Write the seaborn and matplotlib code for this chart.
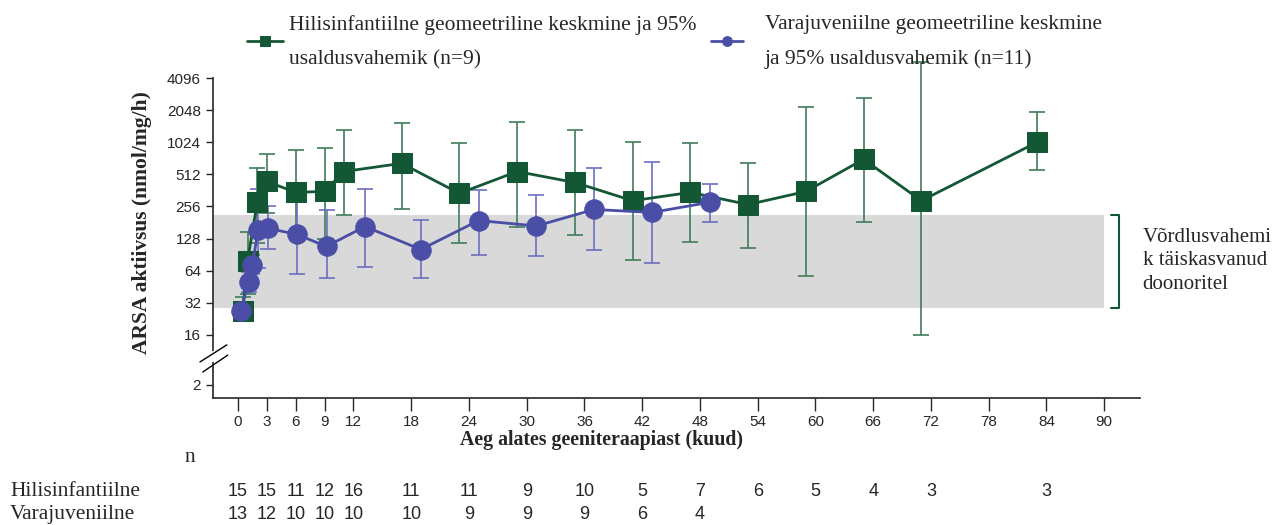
import numpy as np
import pandas as pd
import matplotlib
matplotlib.use("Agg")
import matplotlib.pyplot as plt
import seaborn as sns

# Hilisinfantiilne (late infantile) geometric mean and 95% CI
green_month = [0.5, 1, 2, 3, 6, 9, 11, 17, 23, 29, 35, 41, 47, 53, 59, 65, 71, 83]
green_mean = [27, 79, 279, 440, 347, 355, 545, 650, 340, 545, 430, 290, 347, 267, 354, 710, 290, 1024]
green_lo = [25, 39, 115, 220, 150, 128, 215, 245, 115, 165, 137, 81, 120, 105, 57, 185, 16, 558]
green_hi = [36, 149, 583, 790, 861, 900, 1350, 1550, 1000, 1600, 1350, 1040, 1000, 650, 2180, 2650, 5800, 1960]

# Varajuveniilne (early juvenile)
blue_month = [0.3, 1.1, 1.5, 2.1, 3.1, 6.1, 9.2, 13.2, 19, 25, 31, 37, 43, 49]
blue_mean = [27, 50, 73, 155, 160, 140, 108, 166, 101, 189, 168, 240, 225, 280]
blue_lo = [24, 40, 60, 67, 103, 60, 54, 69, 55, 90, 87, 101, 75, 185]
blue_hi = [32, 62, 90, 376, 260, 300, 235, 376, 193, 368, 325, 583, 670, 420]

# reference range in healthy adult donors
ref_lo, ref_hi = 28.6, 211

x_ticks = [0, 3, 6, 9, 12, 18, 24, 30, 36, 42, 48, 54, 60, 66, 72, 78, 84, 90]
y_ticks = [2, 16, 32, 64, 128, 256, 512, 1024, 2048, 4096]

n_months_green = [0, 3, 6, 9, 12, 18, 24, 30, 36, 42, 48, 54, 60, 66, 72, 84]
n_green = [15, 15, 11, 12, 16, 11, 11, 9, 10, 5, 7, 6, 5, 4, 3, 3]
n_months_blue = [0, 3, 6, 9, 12, 18, 24, 30, 36, 42, 48]
n_blue = [13, 12, 10, 10, 10, 10, 9, 9, 9, 6, 4]

GREEN = "#135734"
GREEN_ERR = "#3f7d5a"
BLUE = "#4a4ea6"
BLUE_ERR = "#6b6fbf"
SERIF = ["Liberation Serif", "DejaVu Serif"]
SANS = ["Liberation Sans", "DejaVu Sans"]

sns.set_style("ticks")
plt.rcParams["font.family"] = SERIF


# log2 axis with a compressed part below 16 (broken axis)
def fwd(v):
    v = np.asarray(v, dtype=float)
    l = np.log2(np.clip(v, 1e-9, None))
    return np.where(l >= 4, l, 4 - (4 - l) * 0.5208)


def inv(p):
    p = np.asarray(p, dtype=float)
    l = np.where(p >= 4, p, 4 - (4 - p) / 0.5208)
    return 2 ** l


green = pd.DataFrame({"month": green_month, "mean": green_mean})
blue = pd.DataFrame({"month": blue_month, "mean": blue_mean})

fig = plt.figure(figsize=(12.75, 5.25), dpi=100)
ax = fig.add_axes([0.167, 0.242, 0.727, 0.609])

xmin, xmax = -2.6, 93.7
ax.fill_between([xmin, 90], ref_lo, ref_hi, color="#d9d9d9", lw=0, zorder=0)

ax.errorbar(green_month, green_mean,
            yerr=[np.array(green_mean) - np.array(green_lo), np.array(green_hi) - np.array(green_mean)],
            fmt="none", ecolor=GREEN_ERR, elinewidth=1.2, capsize=6, capthick=1.2, zorder=2, clip_on=False)
ax.errorbar(blue_month, blue_mean,
            yerr=[np.array(blue_mean) - np.array(blue_lo), np.array(blue_hi) - np.array(blue_mean)],
            fmt="none", ecolor=BLUE_ERR, elinewidth=1.2, capsize=6, capthick=1.2, zorder=2, clip_on=False)

sns.lineplot(data=green, x="month", y="mean", ax=ax, color=GREEN, lw=2, marker="s",
             markersize=14, markeredgecolor=GREEN, zorder=3,
             label="Hilisinfantiilne geomeetriline keskmine ja 95%\nusaldusvahemik (n=9)")
sns.lineplot(data=blue, x="month", y="mean", ax=ax, color=BLUE, lw=2, marker="o",
             markersize=14, markeredgecolor=BLUE, zorder=4,
             label="Varajuveniilne geomeetriline keskmine\nja 95% usaldusvahemik (n=11)")

ax.set_yscale("function", functions=(fwd, inv))
ax.set_ylim(1.16, 4096)
ax.set_xlim(xmin, xmax)
ax.set_yticks(y_ticks)
ax.set_yticklabels([str(t) for t in y_ticks], family=SANS, fontsize=11)
ax.set_xticks(x_ticks)
ax.set_xticklabels([str(t) for t in x_ticks], family=SANS, fontsize=11)
ax.minorticks_off()
ax.tick_params(axis="x", length=9, width=1, pad=3)
ax.tick_params(axis="y", length=5, width=1)
sns.despine(ax=ax)
for s in ["left", "bottom"]:
    ax.spines[s].set_linewidth(1.2)

ax.set_xlabel("Aeg alates geeniteraapiast (kuud)", fontsize=14.3, fontweight="bold")
ax.xaxis.set_label_coords(0.419, -0.1)
ax.set_ylabel("ARSA aktiivsus (nmol/mg/h)", fontsize=15.5, fontweight="bold")
ax.yaxis.set_label_coords(-0.066, 0.55)

# axis break marks
ax.plot([0, 0], [0.118, 0.14], transform=ax.transAxes, color="white", lw=3, clip_on=False, zorder=5)
ax.plot([-0.014, 0.015], [0.1125, 0.166], transform=ax.transAxes, color="black", lw=1, clip_on=False, zorder=6)
ax.plot([-0.011, 0.016], [0.081, 0.134], transform=ax.transAxes, color="black", lw=1, clip_on=False, zorder=6)

# reference range bracket and label
ax.plot([90.7, 91.5, 91.5, 90.7], [ref_hi, ref_hi, ref_lo, ref_lo], color=GREEN, lw=1.5, clip_on=False)
ax.text(94.0, 79, "Võrdlusvahemi\nk täiskasvanud\ndoonoritel", fontsize=15, va="center", ha="left",
        linespacing=1.3)

# legend: two separate entries placed like the original
handles, labels = ax.get_legend_handles_labels()
leg1 = ax.legend([handles[0]], [labels[0]], loc="center left", bbox_to_anchor=(247 / 1275, 1 - 42 / 525),
                 bbox_transform=fig.transFigure, frameon=False, fontsize=15.5, handlelength=1.67,
                 handletextpad=0.28, borderpad=0, borderaxespad=0)
ax.add_artist(leg1)
leg2 = ax.legend([handles[1]], [labels[1]], loc="center left", bbox_to_anchor=(711 / 1275, 1 - 42 / 525),
                 bbox_transform=fig.transFigure, frameon=False, fontsize=15.5, handlelength=1.5,
                 handletextpad=1.0, borderpad=0, borderaxespad=0)
for leg in (leg1, leg2):
    for t in leg.get_texts():
        t.set_linespacing(2.05)
    for h in leg.legend_handles:
        h.set_markersize(7)

# numbers at risk table
fig.text(185 / 1275, 1 - 458 / 525, "n", fontsize=15.5, va="center")
fig.text(10 / 1275, 1 - 492 / 525, "Hilisinfantiilne", fontsize=15.5, va="center")
fig.text(10 / 1275, 1 - 515 / 525, "Varajuveniilne", fontsize=15.5, va="center")
tr = ax.get_xaxis_transform()
for m, n in zip(n_months_green, n_green):
    ax.text(m, -0.294, str(n), transform=tr, ha="center", va="center", family=SANS, fontsize=13)
for m, n in zip(n_months_blue, n_blue):
    ax.text(m, -0.366, str(n), transform=tr, ha="center", va="center", family=SANS, fontsize=13)

fig.savefig("out.png", dpi=100)
